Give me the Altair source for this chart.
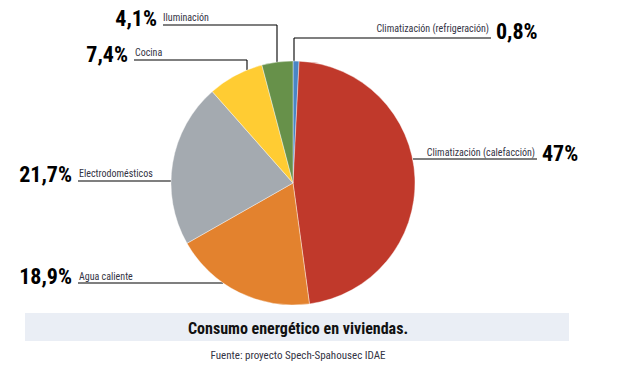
import altair as alt
import pandas as pd

# ---- data ----
categories = [
    "Climatización (refrigeración)",
    "Climatización (calefacción)",
    "Agua caliente",
    "Electrodomésticos",
    "Cocina",
    "Iluminación",
]
values = [0.8, 47, 18.9, 21.7, 7.4, 4.1]
colors = ["#4A86C5", "#C0392B", "#E3822E", "#A4AAB0", "#FFCC33", "#67914A"]
title_text = "Consumo energético en viviendas."
source_text = "Fuente: proyecto Spech-Spahousec IDAE"

pct_labels = [f"{v:g}".replace(".", ",") + "%" for v in values]

# ---- layout (page pixel coordinates) ----
W, H = 605, 359
CX, CY, R = 293, 183, 122
FONT = "Roboto Condensed, Noto Sans Condensed, Liberation Sans Narrow, Liberation Sans, sans-serif"

label_layout = [
    dict(num_x=496, num_al="left", num_y=39, name_x=489, name_al="right", name_y=32),
    dict(num_x=542, num_al="left", num_y=161, name_x=535, name_al="right", name_y=156),
    dict(num_x=72, num_al="right", num_y=284, name_x=79, name_al="left", name_y=280),
    dict(num_x=72, num_al="right", num_y=182, name_x=79, name_al="left", name_y=177),
    dict(num_x=128, num_al="right", num_y=62, name_x=135, name_al="left", name_y=56),
    dict(num_x=157, num_al="right", num_y=26, name_x=163, name_al="left", name_y=21),
]
leader_segments = [
    (294, 38, 294, 62), (294, 38, 491, 38),
    (413, 159, 537, 159),
    (78, 283, 223, 283),
    (78, 181, 171, 181),
    (134, 60, 247, 60), (247, 60, 247, 70),
    (163, 25, 277, 25), (277, 25, 277, 62),
]

pie_df = pd.DataFrame({"cat": categories, "value": values, "idx": list(range(len(values)))})

lab_rows = []
for i, lay in enumerate(label_layout):
    lab_rows.append(dict(cat=categories[i], pct=pct_labels[i], **lay))
lab_df = pd.DataFrame(lab_rows)

seg_df = pd.DataFrame(leader_segments, columns=["x", "y", "x2", "y2"])

xs = alt.Scale(domain=[8, 8 + W])
ys = alt.Scale(domain=[8, 8 + H], reverse=True)

def X(f):
    return alt.X(f, type="quantitative", scale=xs, axis=None)

def Y(f):
    return alt.Y(f, type="quantitative", scale=ys, axis=None)

pie = alt.Chart(pie_df).mark_arc(outerRadius=R, stroke="white", strokeWidth=0.4).encode(
    theta=alt.Theta("value:Q", stack=True),
    order=alt.Order("idx:Q"),
    color=alt.Color("cat:N", scale=alt.Scale(domain=categories, range=colors), legend=None),
    x=alt.value(CX - 8),
    y=alt.value(CY - 8),
)

leaders = alt.Chart(seg_df).mark_rule(color="black", strokeWidth=1.1).encode(
    x=X("x"), y=Y("y"), x2="x2", y2="y2"
)

layers = [leaders, pie]
for al in ["left", "right"]:
    sub = lab_df[lab_df.num_al == al]
    layers.append(
        alt.Chart(sub).mark_text(
            align=al, baseline="alphabetic", font=FONT, fontSize=22, fontWeight="bold", color="black"
        ).encode(x=X("num_x"), y=Y("num_y"), text="pct:N")
    )
    sub2 = lab_df[lab_df.name_al == al]
    layers.append(
        alt.Chart(sub2).mark_text(
            align=al, baseline="alphabetic", font=FONT, fontSize=10, color="#333344"
        ).encode(x=X("name_x"), y=Y("name_y"), text="cat:N")
    )

box_df = pd.DataFrame({"x": [25], "x2": [569], "y": [313], "y2": [341]})
box = alt.Chart(box_df).mark_rect(color="#EAEEF5").encode(
    x=X("x"), x2="x2", y=Y("y"), y2="y2"
)
cap_df = pd.DataFrame({"t": [title_text, source_text], "x": [298, 298], "y": [334, 359]})
title = alt.Chart(cap_df.iloc[[0]]).mark_text(
    align="center", baseline="alphabetic", font=FONT, fontSize=16, fontWeight="bold", color="#111111"
).encode(x=X("x"), y=Y("y"), text="t:N")
source = alt.Chart(cap_df.iloc[[1]]).mark_text(
    align="center", baseline="alphabetic", font=FONT, fontSize=11, color="#333344"
).encode(x=X("x"), y=Y("y"), text="t:N")

chart = alt.layer(box, title, source, *layers).properties(
    width=W, height=H, padding=0, autosize=alt.AutoSizeParams(type="none")
).configure_view(stroke=None)

chart.save("out.html", embed_options={"renderer": "svg", "actions": False})
